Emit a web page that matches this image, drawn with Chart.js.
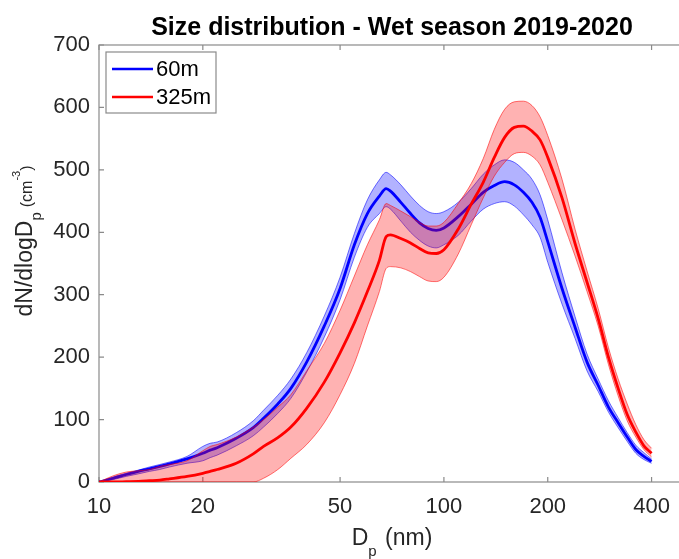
<!DOCTYPE html>
<html>
<head>
<meta charset="utf-8">
<title>Size distribution</title>
<script src="https://cdn.jsdelivr.net/npm/chart.js@4"></script>
<style>
  html, body { margin: 0; padding: 0; background: #fff; overflow: hidden; }
  #wrap { width: 679px; height: 559px; overflow: hidden; }
</style>
</head>
<body>
<div id="wrap"><canvas id="sizeChart" width="700" height="559"></canvas></div>
<script>
// --- particle number size distribution, wet season 2019-2020 ---
const diameters = [10, 11, 12, 13, 14, 15, 16, 18, 20, 21, 22, 25, 28,
  30, 33, 36, 40, 45, 50, 55, 60, 65, 68, 70, 75, 80, 85, 90, 95, 100,
  110, 120, 130, 140, 150, 160, 170, 180, 190, 200,
  220, 240, 260, 280, 300, 320, 340, 360, 380, 400];

// 60 m inlet: mean and band limits
const mean60 = [0, 6, 12, 17, 21, 25, 29, 37, 46, 51, 55, 70, 87,
  102, 125, 150, 192, 250, 310, 380, 430, 458, 470, 466, 448, 430, 415, 406, 403, 407,
  425, 445, 464, 475, 481, 476, 464, 448, 424, 385,
  310, 248, 192, 155, 120, 95, 72, 52, 41, 33];
const upper60 = [0, 8, 14, 19, 24, 28, 32, 41, 57, 62, 64, 79, 98,
  115, 139, 165, 207, 266, 328, 398, 452, 484, 496, 492, 476, 458, 443, 433, 430, 433,
  448, 470, 493, 508, 516, 512, 500, 485, 460, 420,
  335, 265, 205, 165, 130, 103, 79, 59, 47, 37];
const lower60 = [0, 4, 9, 13, 17, 20, 24, 30, 34, 39, 43, 58, 74,
  88, 110, 134, 176, 232, 292, 360, 408, 430, 441, 437, 418, 400, 387, 378, 375, 380,
  395, 418, 437, 446, 449, 442, 428, 412, 392, 352,
  285, 230, 178, 145, 112, 87, 65, 46, 36, 30];

// 325 m inlet
const mean325 = [0, 0, 0.5, 1, 2, 3, 5, 9, 14, 17, 20, 30, 45,
  57, 71, 88, 118, 160, 207, 255, 305, 355, 393, 396, 390, 383, 374, 367, 366, 372,
  405, 445, 480, 520, 552, 568, 570, 562, 548, 520,
  455, 382, 320, 262, 200, 150, 108, 80, 58, 46];
const upper325 = [0, 10, 16, 18, 20, 25, 28, 34, 50, 57, 60, 72, 88,
  100, 120, 140, 178, 222, 275, 330, 380, 420, 446, 443, 434, 425, 416, 410, 410, 416,
  446, 478, 518, 565, 597, 609, 610, 603, 585, 555,
  485, 405, 338, 278, 215, 165, 125, 92, 68, 54];
const lower325 = [0, 0, 0, 0, 0, 0, 0, 0, 0, 0, 0, 0, 0,
  6, 20, 38, 60, 95, 140, 190, 250, 305, 342, 345, 343, 337, 329, 322, 321, 328,
  365, 412, 455, 490, 512, 526, 528, 522, 508, 480,
  420, 362, 305, 250, 188, 138, 98, 72, 52, 40];

const xTickValues = [10, 20, 50, 100, 200, 400];
const seriesNames = ['60m', '325m'];

const FONT = '"Liberation Sans", Arial, Helvetica, sans-serif';
const AXIS_GREY = '#8a8a8a';
const TEXT_GREY = '#262626';

const toPoints = ys => diameters.map((d, i) => ({ x: d, y: ys[i] }));

// draws a row of text runs (for sub/superscripts), returns total width
function drawRuns(ctx, runs, x, y, measureOnly) {
  let cx = x;
  runs.forEach(r => {
    ctx.font = (r.bold ? 'bold ' : '') + r.size + 'px ' + FONT;
    if (!measureOnly) ctx.fillText(r.text, cx, y + (r.dy || 0));
    cx += ctx.measureText(r.text).width + (r.gap || 0);
  });
  return cx - x;
}

// box round the plot with inward ticks
const axesFrame = {
  id: 'axesFrame',
  beforeDatasetsDraw(chart) {
    const { ctx, chartArea: a, scales } = chart;
    const len = 5;
    ctx.save();
    ctx.strokeStyle = AXIS_GREY;
    ctx.lineWidth = 1.2;
    ctx.strokeRect(a.left, a.top, a.right - a.left, a.bottom - a.top);
    ctx.beginPath();
    scales.x.ticks.forEach(t => {
      const px = scales.x.getPixelForValue(t.value);
      ctx.moveTo(px, a.bottom); ctx.lineTo(px, a.bottom - len);
      ctx.moveTo(px, a.top); ctx.lineTo(px, a.top + len);
    });
    scales.y.ticks.forEach(t => {
      const py = scales.y.getPixelForValue(t.value);
      ctx.moveTo(a.left, py); ctx.lineTo(a.left + len, py);
      ctx.moveTo(a.right, py); ctx.lineTo(a.right - len, py);
    });
    ctx.stroke();
    ctx.restore();
  }
};

// title, axis labels and the legend box inside the plot
const labels = {
  id: 'labels',
  afterDraw(chart) {
    const { ctx, chartArea: a } = chart;
    const midX = (a.left + a.right) / 2;
    ctx.save();
    ctx.textBaseline = 'alphabetic';
    ctx.textAlign = 'left';

    ctx.fillStyle = '#000';
    const title = [{ text: 'Size distribution - Wet season 2019-2020', size: 25, bold: true }];
    let w = drawRuns(ctx, title, 0, 0, true);
    drawRuns(ctx, title, midX - w / 2, 35);

    ctx.fillStyle = TEXT_GREY;
    const xLab = [
      { text: 'D', size: 23 },
      { text: 'p', size: 15, dy: 11, gap: 2 },
      { text: ' (nm)', size: 23 }
    ];
    w = drawRuns(ctx, xLab, 0, 0, true);
    drawRuns(ctx, xLab, midX - w / 2, 545);

    const yLab = [
      { text: 'dN/dlogD', size: 23 },
      { text: 'p', size: 15, dy: 9, gap: 5 },
      { text: '(cm', size: 16 },
      { text: '-3', size: 11, dy: -12 },
      { text: ')', size: 16 }
    ];
    w = drawRuns(ctx, yLab, 0, 0, true);
    ctx.translate(32, 241 + w / 2);
    ctx.rotate(-Math.PI / 2);
    drawRuns(ctx, yLab, 0, 0);
    ctx.setTransform(1, 0, 0, 1, 0, 0);

    // legend
    const means = chart.data.datasets.filter(ds => seriesNames.includes(ds.label))
      .sort((p, q) => seriesNames.indexOf(p.label) - seriesNames.indexOf(q.label));
    const bx = a.left + 7, by = a.top + 7;
    ctx.fillStyle = '#fff';
    ctx.fillRect(bx, by, 110, 61);
    ctx.strokeStyle = AXIS_GREY;
    ctx.lineWidth = 1.2;
    ctx.strokeRect(bx, by, 110, 61);
    ctx.textBaseline = 'middle';
    means.forEach((ds, i) => {
      const y = by + 17 + i * 28;
      ctx.strokeStyle = ds.borderColor;
      ctx.lineWidth = 2.5;
      ctx.beginPath();
      ctx.moveTo(bx + 6, y);
      ctx.lineTo(bx + 47, y);
      ctx.stroke();
      ctx.fillStyle = '#000';
      ctx.font = '22px ' + FONT;
      ctx.fillText(ds.label, bx + 50, y + 1);
    });
    ctx.restore();
  }
};

const band = (ys, colour, fill) => ({
  data: toPoints(ys),
  borderColor: colour,
  borderWidth: 1,
  backgroundColor: fill,
  fill: fill ? '+1' : false
});

new Chart(document.getElementById('sizeChart'), {
  type: 'line',
  data: {
    // first dataset is painted last
    datasets: [
      { label: '325m', data: toPoints(mean325), borderColor: '#ff0000', borderWidth: 2.8, fill: false },
      band(upper325, 'rgba(255,0,0,0.55)', 'rgba(255,0,0,0.3)'),
      band(lower325, 'rgba(255,0,0,0.55)', null),
      { label: '60m', data: toPoints(mean60), borderColor: '#0000ff', borderWidth: 2.8, fill: false },
      band(upper60, 'rgba(0,0,255,0.55)', 'rgba(0,0,255,0.3)'),
      band(lower60, 'rgba(0,0,255,0.55)', null)
    ]
  },
  options: {
    responsive: false,
    animation: false,
    layout: { padding: { top: 45, right: 15, left: 0, bottom: 0 } },
    elements: {
      point: { radius: 0 },
      line: { cubicInterpolationMode: 'monotone' }
    },
    plugins: {
      legend: { display: false },
      tooltip: { enabled: false },
      title: { display: false }
    },
    scales: {
      x: {
        type: 'logarithmic',
        min: 10,
        max: 500,
        afterBuildTicks: s => { s.ticks = xTickValues.map(v => ({ value: v })); },
        afterFit: s => { s.height = 77; s.paddingLeft = 0; s.paddingRight = 0; },
        grid: { display: false, drawTicks: false },
        border: { display: false },
        ticks: {
          callback: v => String(v),
          autoSkip: false,
          maxRotation: 0,
          padding: 12,
          color: TEXT_GREY,
          font: { family: FONT, size: 22 }
        }
      },
      y: {
        min: 0,
        max: 700,
        afterFit: s => { s.width = 99; },
        grid: { display: false, drawTicks: false },
        border: { display: false },
        ticks: {
          stepSize: 100,
          padding: 9,
          color: TEXT_GREY,
          font: { family: FONT, size: 22 }
        }
      }
    }
  },
  plugins: [axesFrame, labels]
});
</script>
</body>
</html>
